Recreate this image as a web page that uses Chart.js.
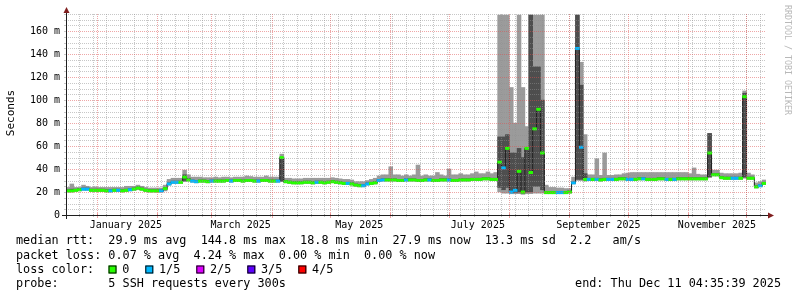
<!DOCTYPE html>
<html>
<head>
<meta charset="utf-8">
<style>
  html, body { margin: 0; padding: 0; background: #fff; }
  #wrap { width: 797px; height: 297px; }
</style>
</head>
<body>
<div id="wrap"><canvas id="chart" width="797" height="297"></canvas></div>
<script src="https://cdn.jsdelivr.net/npm/chart.js@4.4.1/dist/chart.umd.min.js"></script>
<script>
// days counted from 1 Jan 2025, one bin = 2 days
const FIRST_DAY = -15.8;
const BIN_DAYS = 2;
const LAST_DAY = 344.2;
const Y_MAX = 175;

// median rtt per bin (ms)
const median = [
  21, 21, 21.5, 22, 22.5, 22.5, 21.5, 21.5, 21.5, 21.5,
  21, 21, 21.5, 21.5, 21, 21.5, 22, 22.5, 23.5, 22.5,
  21.5, 21, 21, 21, 21, 23, 27, 28.5, 28.5, 28.5,
  33, 30.5, 29.5, 29, 29.5, 29.5, 29, 29.5, 29.5, 29.5,
  29.5, 30, 29.5, 30, 30, 29.5, 30, 30, 29.5, 29.5,
  30, 30, 29.5, 29.5, 29.5, 50, 29, 28.5, 28, 28,
  28, 28.5, 28.5, 28, 28.5, 28.5, 28, 28.5, 29, 28.5,
  28, 27.5, 27.5, 27, 26, 25.5, 25.5, 27, 27.5, 28,
  30, 30.5, 30.5, 30.5, 30.5, 30, 30, 30.5, 30.5, 30.5,
  30, 30, 30.5, 30.5, 30, 30, 30.5, 30.5, 30.5, 30,
  30, 30.5, 30.5, 30.5, 31, 31, 31, 31.5, 31.5, 31,
  31, 46, 41, 58, 20, 21.5, 38, 20, 58, 37,
  75, 92, 54, 19.5, 19.5, 19.5, 19.5, 19.5, 19.5, 20,
  28, 145, 59, 31, 31, 31, 31, 30.5, 31, 31,
  31, 31, 31.5, 31.5, 31, 31, 31, 31.5, 31.5, 31,
  31, 31, 31.5, 31.5, 31, 31, 31, 31.5, 31.5, 31.5,
  31.5, 31.5, 31.5, 31.5, 31.5, 54, 35, 35, 32.5, 32,
  32, 32, 32, 32, 103, 32, 32, 24.5, 25.5, 27.5,
];

// smallest ping per bin
const pingMin = [
  20, 20, 20.5, 21, 21.5, 21.5, 20.5, 20.5, 20.5, 20.5,
  20, 20, 20.5, 20.5, 20, 20.5, 21, 21.5, 22, 21.5,
  20.5, 20, 20, 20, 20, 21, 26, 27.5, 27.5, 27.5,
  29, 29.5, 28.5, 28, 28.5, 28.5, 28, 28.5, 28.5, 28.5,
  28.5, 29, 28.5, 29, 29, 28.5, 29, 29, 28.5, 28.5,
  29, 29, 28.5, 28.5, 28.5, 29, 28, 27.5, 27, 27,
  27, 27.5, 27.5, 27, 27.5, 27.5, 27, 27.5, 28, 27.5,
  27, 26.5, 26.5, 26, 25, 24.5, 24.5, 26, 26.5, 27,
  29, 29.5, 29.5, 29.5, 29.5, 29, 29, 29.5, 29.5, 29.5,
  29, 29, 29.5, 29.5, 29, 29, 29.5, 29.5, 29.5, 29,
  29, 29.5, 29.5, 29.5, 30, 30, 30, 30.5, 30.5, 30,
  30, 20, 19, 19, 18.5, 18.5, 18.5, 18, 18.5, 18.5,
  19, 19, 19, 18.5, 18.5, 18.5, 18.5, 18.5, 18.5, 19,
  27, 30, 30, 29.5, 30, 30, 30, 29.5, 30, 30,
  30, 30, 30.5, 30.5, 30, 30, 30, 30.5, 30.5, 30,
  30, 30, 30.5, 30.5, 30, 30, 30, 30.5, 30.5, 30.5,
  30.5, 30.5, 30.5, 30.5, 30.5, 33, 34, 34, 31.5, 31,
  31, 31, 31, 31, 32, 31, 31, 23.5, 24.5, 26.5,
];

// second ping (lower edge of dark smoke)
const pingLow = [
  20.5, 20.5, 21, 21.5, 22, 22, 21, 21, 21, 21,
  20.5, 20.5, 21, 21, 20.5, 21, 21.5, 22, 23, 22,
  21, 20.5, 20.5, 20.5, 20.5, 22, 26.5, 28, 28, 28,
  30, 30, 29, 28.5, 29, 29, 28.5, 29, 29, 29,
  29, 29.5, 29, 29.5, 29.5, 29, 29.5, 29.5, 29, 29,
  29.5, 29.5, 29, 29, 29, 29.5, 28.5, 28, 27.5, 27.5,
  27.5, 28, 28, 27.5, 28, 28, 27.5, 28, 28.5, 28,
  27.5, 27, 27, 26.5, 25.5, 25, 25, 26.5, 27, 27.5,
  29.5, 30, 30, 30, 30, 29.5, 29.5, 30, 30, 30,
  29.5, 29.5, 30, 30, 29.5, 29.5, 30, 30, 30, 29.5,
  29.5, 30, 30, 30, 30.5, 30.5, 30.5, 31, 31, 30.5,
  30.5, 24, 22, 24, 19.5, 19.5, 20, 19, 20, 20,
  25, 25, 22, 19, 19, 19, 19, 19, 19, 19.5,
  27.5, 31, 31, 30, 30.5, 30.5, 30.5, 30, 30.5, 30.5,
  30.5, 30.5, 31, 31, 30.5, 30.5, 30.5, 31, 31, 30.5,
  30.5, 30.5, 31, 31, 30.5, 30.5, 30.5, 31, 31, 31,
  31, 31, 31, 31, 31, 33, 34.5, 34.5, 32, 31.5,
  31.5, 31.5, 31.5, 31.5, 33, 31.5, 31.5, 24, 25, 27,
];

// fourth ping (upper edge of dark smoke)
const pingHigh = [
  22, 22.5, 22.5, 23, 23.5, 23.5, 22.5, 22.5, 22.5, 22.5,
  22, 22, 22.5, 22.5, 22, 22.5, 23, 23.5, 24.5, 23.5,
  22.5, 22, 22, 22, 22, 24, 28, 29.5, 29.5, 29.5,
  35, 32, 30.5, 30, 30.5, 30.5, 30, 30.5, 30.5, 30.5,
  30.5, 31, 30.5, 31, 31, 30.5, 31, 31, 30.5, 30.5,
  31, 31, 30.5, 30.5, 30.5, 50, 30, 29.5, 29, 29,
  29, 29.5, 29.5, 29, 29.5, 29.5, 29, 29.5, 30, 29.5,
  29, 28.5, 28.5, 28, 27, 26.5, 26.5, 28, 28.5, 29,
  31, 31.5, 31.5, 31.5, 31.5, 31, 31, 31.5, 31.5, 31.5,
  31, 31, 31.5, 31.5, 31, 31, 31.5, 31.5, 31.5, 31,
  31, 31.5, 31.5, 31.5, 32, 32, 32, 32.5, 32.5, 32,
  32, 68, 68, 70, 54, 54, 58, 50, 58, 174,
  129, 129, 100, 20.5, 20.5, 20.5, 20.5, 20.5, 20.5, 21,
  29, 174, 113, 36, 32, 32, 32, 31.5, 32, 32,
  32, 32, 32.5, 32.5, 32, 32, 32, 32.5, 32.5, 32,
  32, 32, 32.5, 32.5, 32, 32, 32, 32.5, 32.5, 32.5,
  32.5, 32.5, 32.5, 32.5, 32.5, 71, 36, 36, 33.5, 33,
  33, 33, 33, 33, 106, 33, 33, 25.5, 26.5, 28.5,
];

// largest ping per bin
const pingMax = [
  24, 27, 24, 24, 26, 25, 24, 24.5, 24, 24,
  24, 24, 24, 24, 24, 25, 25, 25, 26, 25,
  24, 23.5, 23.5, 23.5, 23.5, 26, 31, 32, 32, 32,
  39, 35, 33, 33, 33, 32.5, 32.5, 32.5, 33, 32.5,
  33, 33, 32.5, 33, 33, 33, 34, 33.5, 33, 33,
  33, 34, 33, 33, 33, 53, 32, 32, 31.5, 31.5,
  31.5, 32, 32, 32, 32, 32, 32, 32, 32.5, 32,
  31.5, 31, 31, 30.5, 29, 29, 29, 30, 31, 32,
  34, 35, 35, 42, 35, 35, 34, 35, 34, 35,
  43.5, 34, 35, 34, 34, 37, 35, 34, 40, 35,
  35, 36, 35, 35, 36, 37.5, 36, 36, 37.5, 36,
  37, 174, 174, 174, 111, 80, 174, 111, 77, 174,
  174, 174, 174, 26, 24, 24, 23.5, 23.5, 23, 23,
  33, 174, 133, 70, 35, 35, 49, 34.5, 54, 34.5,
  34.5, 35, 35, 36, 36.5, 37, 37, 37, 37, 37,
  37, 37, 37, 37, 37, 37, 37, 37, 37, 37,
  36, 41, 35.5, 35, 35, 71, 39, 39, 36.5, 36,
  36, 36, 36, 36.5, 108, 36.5, 35, 28, 29, 30.5,
];

// lost pings per bin (out of 5)
const lost = [
  0, 0, 0, 0, 1, 1, 0, 0, 0, 0,
  0, 1, 0, 1, 0, 0, 1, 0, 0, 0,
  0, 0, 0, 0, 1, 0, 1, 1, 1, 0,
  0, 0, 1, 1, 0, 0, 0, 1, 0, 0,
  0, 0, 1, 0, 0, 0, 0, 0, 0, 1,
  0, 0, 0, 0, 1, 0, 0, 0, 0, 0,
  0, 0, 0, 0, 1, 0, 0, 0, 0, 0,
  0, 0, 1, 0, 0, 0, 1, 1, 0, 0,
  1, 1, 0, 0, 0, 0, 0, 1, 0, 0,
  0, 0, 0, 1, 0, 0, 0, 0, 1, 0,
  0, 0, 0, 0, 0, 0, 0, 0, 0, 0,
  0, 0, 1, 0, 1, 1, 0, 0, 0, 0,
  0, 0, 0, 0, 0, 0, 1, 1, 0, 0,
  1, 1, 1, 0, 1, 0, 1, 0, 0, 1,
  1, 0, 0, 0, 1, 1, 0, 0, 1, 0,
  0, 0, 0, 0, 1, 0, 1, 0, 0, 0,
  0, 0, 0, 0, 0, 0, 0, 0, 0, 0,
  0, 1, 1, 0, 0, 0, 0, 0, 1, 0,
];

const MONTH_STARTS = [0, 31, 59, 90, 120, 151, 181, 212, 243, 273, 304, 334];
const MONTH_LABELS = ["January 2025", "March 2025", "May 2025", "July 2025", "September 2025", "November 2025"];
const MONTH_LABEL_DAYS = [15, 74, 135, 196, 258, 319];
const FIRST_MONDAY = -9;
const Y_LABELS = [0, 20, 40, 60, 80, 100, 120, 140, 160];
const Y_MINOR = 5;

const LOSS_COLORS = ["#26ff00", "#00b8ff", "#dd00ff", "#5e00ff", "#ff0000"];
const LOSS_LABELS = ["0", "1/5", "2/5", "3/5", "4/5"];
const LEGEND_LINES = [
  "median rtt:  29.9 ms avg  144.8 ms max  18.8 ms min  27.9 ms now  13.3 ms sd  2.2   am/s",
  "packet loss: 0.07 % avg  4.24 % max  0.00 % min  0.00 % now",
  "loss color:",
  "probe:       5 SSH requests every 300s",
];
const END_TEXT = "end: Thu Dec 11 04:35:39 2025";

const MONO = "'DejaVu Sans Mono', monospace";
const GRID_MINOR = "rgba(143, 143, 143, 0.5)";
const GRID_MAJOR = "rgba(222, 79, 79, 0.5)";
const AXIS = "#1f1f1f";
const ARROW = "#801f1f";

const binX = median.map((_, i) => FIRST_DAY + BIN_DAYS * (i + 0.5));

function barData(low, high) {
  return binX.map((x, i) => ({ x, y: [low[i], high[i]] }));
}

function hLine(ctx, x1, x2, y) {
  ctx.beginPath();
  ctx.moveTo(x1, y);
  ctx.lineTo(x2, y);
  ctx.stroke();
}

function vLine(ctx, x, y1, y2) {
  ctx.beginPath();
  ctx.moveTo(x, y1);
  ctx.lineTo(x, y2);
  ctx.stroke();
}

const rrdDecor = {
  id: "rrdDecor",
  afterDatasetsDraw(chart) {
    const { ctx, chartArea: a, scales: { x, y } } = chart;
    const mondays = [];
    for (let d = FIRST_MONDAY; d <= LAST_DAY; d += 7) mondays.push(d);

    ctx.save();
    ctx.lineWidth = 1;
    ctx.setLineDash([1, 1]);
    ctx.strokeStyle = GRID_MINOR;
    for (let v = Y_MINOR; v <= Y_MAX; v += Y_MINOR) {
      if (v % 20 !== 0) hLine(ctx, a.left, a.right, Math.round(y.getPixelForValue(v)) + 0.5);
    }
    mondays.forEach((d) => vLine(ctx, Math.round(x.getPixelForValue(d)) + 0.5, a.top, a.bottom));
    ctx.strokeStyle = GRID_MAJOR;
    Y_LABELS.slice(1).forEach((v) => hLine(ctx, a.left, a.right, Math.round(y.getPixelForValue(v)) + 0.5));
    MONTH_STARTS.forEach((d) => vLine(ctx, Math.round(x.getPixelForValue(d)) + 0.5, a.top, a.bottom));

    // small tick marks on the axes
    ctx.setLineDash([]);
    ctx.strokeStyle = GRID_MINOR;
    for (let v = Y_MINOR; v <= Y_MAX; v += Y_MINOR) {
      const py = Math.round(y.getPixelForValue(v)) + 0.5;
      hLine(ctx, a.left - 2, a.left + 1, py);
    }
    mondays.forEach((d) => {
      const px = Math.round(x.getPixelForValue(d)) + 0.5;
      vLine(ctx, px, a.bottom - 1, a.bottom + 2);
    });
    ctx.strokeStyle = GRID_MAJOR;
    MONTH_STARTS.forEach((d) => {
      const px = Math.round(x.getPixelForValue(d)) + 0.5;
      vLine(ctx, px, a.bottom - 2, a.bottom + 3);
    });
    ctx.restore();
  },
  afterDraw(chart) {
    const { ctx, chartArea: a } = chart;
    const ax = a.left + 0.5;
    const ay = a.bottom + 0.5;

    ctx.save();
    ctx.strokeStyle = AXIS;
    ctx.lineWidth = 1;
    hLine(ctx, a.left - 4, a.right + 4, ay);
    vLine(ctx, ax, a.bottom + 4, a.top - 4);
    ctx.fillStyle = ARROW;
    ctx.beginPath();
    ctx.moveTo(ax, a.top - 7);
    ctx.lineTo(ax - 3, a.top - 1);
    ctx.lineTo(ax + 3, a.top - 1);
    ctx.closePath();
    ctx.fill();
    ctx.beginPath();
    ctx.moveTo(a.right + 8, ay);
    ctx.lineTo(a.right + 2, ay - 3);
    ctx.lineTo(a.right + 2, ay + 3);
    ctx.closePath();
    ctx.fill();

    // axis title
    ctx.fillStyle = "#000";
    ctx.font = `11px ${MONO}`;
    ctx.textAlign = "center";
    ctx.textBaseline = "middle";
    ctx.save();
    ctx.translate(11, 113);
    ctx.rotate(-Math.PI / 2);
    ctx.fillText("Seconds", 0, 0);
    ctx.restore();

    // watermark
    ctx.save();
    ctx.fillStyle = "#b8b8b8";
    ctx.font = `8.3px ${MONO}`;
    ctx.translate(787, 60);
    ctx.rotate(Math.PI / 2);
    ctx.fillText("RRDTOOL / TOBI OETIKER", 0, 0);
    ctx.restore();

    // legend
    ctx.font = `11.8px ${MONO}`;
    ctx.textAlign = "left";
    const rows = [241, 255.5, 269.5, 283.5];
    LEGEND_LINES.forEach((line, i) => ctx.fillText(line, 16, rows[i]));
    let lx = 108.5;
    LOSS_LABELS.forEach((label, i) => {
      ctx.fillStyle = LOSS_COLORS[i];
      ctx.fillRect(lx, rows[2] - 4, 8, 8);
      ctx.strokeStyle = "#000";
      ctx.strokeRect(lx + 0.5, rows[2] - 3.5, 7, 7);
      ctx.fillStyle = "#000";
      ctx.fillText(label, lx + 13.7, rows[2]);
      lx += 13.7 + ctx.measureText(label).width + 16;
    });
    ctx.textAlign = "right";
    ctx.fillText(END_TEXT, 781, rows[3]);
    ctx.restore();
  },
};

new Chart(document.getElementById("chart"), {
  type: "bar",
  data: {
    datasets: [
      {
        label: "median",
        data: barData(median.map((m) => m - 1), median.map((m) => m + 1)),
        backgroundColor: lost.map((l) => LOSS_COLORS[l]),
        grouped: false,
        order: 0,
      },
      {
        type: "line",
        label: "median line",
        data: binX.map((x, i) => ({ x, y: median[i] })),
        borderColor: "#202020",
        borderWidth: 1,
        pointRadius: 0,
        stepped: "middle",
        order: 1,
      },
      {
        label: "inner smoke",
        data: barData(pingLow, pingHigh),
        backgroundColor: "#4e4e4e",
        grouped: false,
        order: 2,
      },
      {
        label: "outer smoke",
        data: barData(pingMin, pingMax),
        backgroundColor: "#9b9b9b",
        grouped: false,
        order: 3,
      },
    ],
  },
  options: {
    responsive: false,
    animation: false,
    devicePixelRatio: 1,
    barPercentage: 1,
    categoryPercentage: 1,
    layout: { padding: { left: 0, right: 31, top: 14, bottom: 0 } },
    plugins: { legend: { display: false }, tooltip: { enabled: false } },
    scales: {
      x: {
        type: "linear",
        min: FIRST_DAY,
        max: LAST_DAY,
        offset: false,
        grid: { display: false, drawTicks: false, offset: false },
        border: { display: false },
        afterBuildTicks: (scale) => {
          scale.ticks = MONTH_LABEL_DAYS.map((value, i) => ({ value, text: MONTH_LABELS[i] }));
        },
        afterFit: (scale) => { scale.height = 82; },
        ticks: {
          autoSkip: false,
          maxRotation: 0,
          minRotation: 0,
          padding: 4,
          color: "#000",
          font: { family: MONO, size: 10 },
          callback: (value, i, ticks) => ticks[i].text,
        },
      },
      y: {
        min: 0,
        max: Y_MAX,
        grid: { display: false, drawTicks: false },
        border: { display: false },
        afterBuildTicks: (scale) => {
          scale.ticks = Y_LABELS.map((value) => ({ value }));
        },
        afterFit: (scale) => { scale.width = 66; },
        ticks: {
          padding: 6,
          color: "#000",
          font: { family: MONO, size: 10 },
          callback: (value) => (value === 0 ? "0" : `${value} m`),
        },
      },
    },
  },
  plugins: [rrdDecor],
});
</script>
</body>
</html>
